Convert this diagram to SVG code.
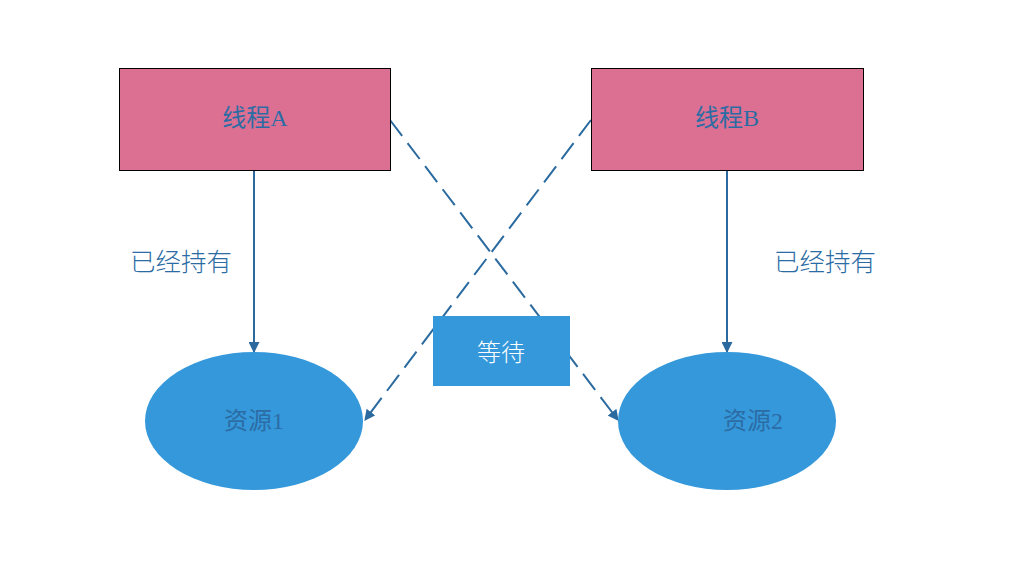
<svg xmlns="http://www.w3.org/2000/svg" width="1035" height="568" viewBox="0 0 1035 568">
<style>
.thread{fill:#DC7092;stroke:#000;stroke-width:1}
.res{fill:#3498DB}
.lbl{font-family:"Liberation Serif","Noto Sans CJK SC",serif;font-size:24px;fill:#2C6CA4;text-anchor:middle;dominant-baseline:central}
.side{font-family:"Noto Sans CJK SC",sans-serif;font-size:25.5px;font-weight:300;fill:#2C6CA4;text-anchor:middle;dominant-baseline:central}
.wait{font-family:"Noto Sans CJK SC",sans-serif;font-size:24px;font-weight:300;fill:#fff;text-anchor:middle;dominant-baseline:central}
.conn{stroke:#2A6A9F;stroke-width:2;fill:none}
.dash{stroke-dasharray:20 9}
</style>
<defs>
<marker id="ah" viewBox="0 0 10 10" refX="9" refY="5" markerWidth="5.5" markerHeight="5.5" orient="auto" markerUnits="strokeWidth">
<path d="M0,0 L10,5 L0,10 z" fill="#2A6A9F"/>
</marker>
</defs>
<rect width="1035" height="568" fill="#fff"/>
<g id="connectors">
<line class="conn" x1="254" y1="170" x2="254" y2="352" marker-end="url(#ah)"/>
<line class="conn" x1="727" y1="170" x2="727" y2="352" marker-end="url(#ah)"/>
<line class="conn dash" x1="390" y1="120" x2="618" y2="420" marker-end="url(#ah)"/>
<line class="conn dash" x1="591" y1="120" x2="365" y2="420" marker-end="url(#ah)"/>
</g>
<g id="threadA"><rect class="thread" x="119.5" y="68.5" width="271" height="102"/><text class="lbl" x="255" y="118">线程A</text></g>
<g id="threadB"><rect class="thread" x="591.5" y="68.5" width="272" height="102"/><text class="lbl" x="727" y="118">线程B</text></g>
<g id="res1"><ellipse class="res" cx="254" cy="421" rx="109" ry="69"/><text class="lbl" x="254" y="421">资源1</text></g>
<g id="res2"><ellipse class="res" cx="727" cy="421" rx="109" ry="69"/><text class="lbl" x="753" y="421">资源2</text></g>
<g id="wait"><rect class="res" x="433" y="316" width="137" height="70"/><text class="wait" x="501" y="350">等待</text></g>
<g id="labels">
<text class="side" x="181" y="259">已经持有</text>
<text class="side" x="825" y="259">已经持有</text>
</g>
</svg>
